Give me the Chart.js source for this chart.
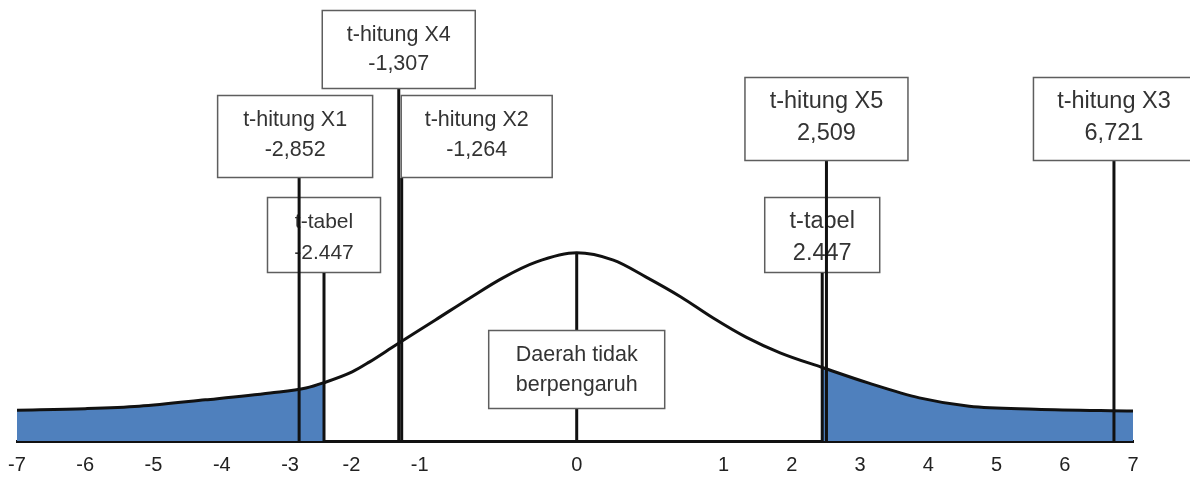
<!DOCTYPE html>
<html>
<head>
<meta charset="utf-8">
<script src="https://cdn.jsdelivr.net/npm/chart.js@4.4.1/dist/chart.umd.min.js"></script>
<style>
  html, body { margin: 0; padding: 0; background: #fff; }
  #wrap { width: 1190px; height: 477px; }
</style>
</head>
<body>
<div id="wrap"><canvas id="chart" width="1190" height="477"></canvas></div>
<script>
// axis range and tick steps
const xMin = -7;
const xMax = 7;
// the drawn axis is not even: the part between -1 and 1 is about twice as wide
const segmentWeights = [1, 1, 1, 1, 0.9, 1, 2.3, 2.15, 1, 1, 1, 1, 1, 1];

// bell curve
const curveX = [-7, -6, -5.21, -4.24, -3.29, -2.74, -2.447, -1.99, -1.74, -1.35, -0.9, -0.68, -0.47, -0.26, 0,
                0.25, 0.47, 0.71, 0.93, 1.33, 1.83, 2.447, 3.13, 3.87, 4.6, 5.57, 7];
const curveY = [0.063, 0.066, 0.071, 0.084, 0.098, 0.108, 0.119, 0.141, 0.161, 0.196, 0.247, 0.292, 0.333, 0.365, 0.384,
                0.369, 0.335, 0.294, 0.251, 0.212, 0.180, 0.150, 0.118, 0.088, 0.071, 0.065, 0.061];

// critical value
const tTabel = 2.447;

// t-hitung / t-tabel markers
const markerNames = ['t-tabel', 't-tabel', 't-hitung X4', 't-hitung X1', 't-hitung X2', 't-hitung X5', 't-hitung X3'];
const markerValues = [-2.447, 2.447, -1.307, -2.852, -1.264, 2.509, 6.721];
const markerSep = ['.', '.', ',', ',', ',', ',', ','];

const centerText = ['Daerah tidak', 'berpengaruh'];

// box layout (pixels), one per marker
const markerLayout = [
    { top: 197, w: 114, h: 76, font: 21, gap: 31, layer: 0 },
    { top: 197, w: 116, h: 76, font: 23.5, gap: 32, layer: 0 },
    { top: 10, w: 154, h: 79, font: 21.5, gap: 29, layer: 1 },
    { top: 95, w: 156, h: 83, font: 21.5, gap: 30, layer: 1, dx: -4 },
    { top: 95, w: 152, h: 83, font: 21.5, gap: 30, layer: 1, align: 'left' },
    { top: 77, w: 164, h: 84, font: 23.5, gap: 32, layer: 1 },
    { top: 77, w: 162, h: 84, font: 23.5, gap: 32, layer: 1 },
];
const centerLayout = { top: 330, w: 177, h: 79, font: 21.5, gap: 30 };

const FONT = '"Liberation Sans", Arial, sans-serif';
const BLUE = '#4f80bd';

function fmt(v, sep) {
    return v.toFixed(3).replace('.', sep);
}

const LinearScale = Chart.LinearScale || Chart.registry.getScale('linear');

class SegmentScale extends LinearScale {
    _toDecimal(v) {
        const total = segmentWeights.reduce((a, b) => a + b, 0);
        let i = Math.floor(v - xMin);
        i = Math.max(0, Math.min(segmentWeights.length - 1, i));
        let acc = 0;
        for (let k = 0; k < i; k++) acc += segmentWeights[k];
        acc += (v - (xMin + i)) * segmentWeights[i];
        return acc / total;
    }
    getPixelForValue(value) {
        if (value === null || isNaN(value)) return NaN;
        return this.getPixelForDecimal(this._toDecimal(value));
    }
    getValueForPixel(pixel) {
        const total = segmentWeights.reduce((a, b) => a + b, 0);
        let d = this.getDecimalForPixel(pixel) * total;
        for (let k = 0; k < segmentWeights.length; k++) {
            if (d <= segmentWeights[k] || k === segmentWeights.length - 1) {
                return xMin + k + d / segmentWeights[k];
            }
            d -= segmentWeights[k];
        }
        return xMax;
    }
}
SegmentScale.id = 'segment';
SegmentScale.defaults = LinearScale.defaults;
Chart.register(SegmentScale);

const curve = curveX.map((x, i) => ({ x: x, y: curveY[i] }));
const leftTail = curve.filter(p => p.x <= -tTabel);
const rightTail = curve.filter(p => p.x >= tTabel);

function drawBox(ctx, left, top, w, h, lines, font, gap) {
    ctx.fillStyle = '#fff';
    ctx.fillRect(left, top, w, h);
    ctx.strokeStyle = '#5e5e5e';
    ctx.lineWidth = 1.5;
    ctx.strokeRect(left + 0.5, top + 0.5, w - 1, h - 1);
    ctx.fillStyle = '#333';
    ctx.font = font + 'px ' + FONT;
    ctx.textAlign = 'center';
    ctx.textBaseline = 'middle';
    const cx = left + w / 2;
    ctx.fillText(lines[0], cx, top + 25);
    ctx.fillText(lines[1], cx, top + 25 + gap);
}

const markerPlugin = {
    id: 'markers',
    afterDatasetsDraw(chart) {
        const { ctx, scales: { x, y } } = chart;
        const base = y.getPixelForValue(0);
        const boxes = markerValues.map((v, i) => {
            const L = markerLayout[i];
            const px = x.getPixelForValue(v);
            const left = L.align === 'left' ? px - 1 : px - L.w / 2 + (L.dx || 0);
            return { px, left, L, lines: [markerNames[i], fmt(v, markerSep[i])] };
        });
        ctx.save();
        boxes.filter(b => b.L.layer === 0).forEach(b =>
            drawBox(ctx, b.left, b.L.top, b.L.w, b.L.h, b.lines, b.L.font, b.L.gap));

        // vertical lines
        ctx.strokeStyle = '#111';
        ctx.lineWidth = 3;
        boxes.forEach(b => {
            ctx.beginPath();
            ctx.moveTo(b.px, b.L.top + b.L.h);
            ctx.lineTo(b.px, base);
            ctx.stroke();
        });
        const peak = curveY[curveX.indexOf(0)];
        const zx = x.getPixelForValue(0);
        ctx.beginPath();
        ctx.moveTo(zx, y.getPixelForValue(peak));
        ctx.lineTo(zx, base);
        ctx.stroke();

        boxes.filter(b => b.L.layer === 1).forEach(b =>
            drawBox(ctx, b.left, b.L.top, b.L.w, b.L.h, b.lines, b.L.font, b.L.gap));
        const C = centerLayout;
        drawBox(ctx, zx - C.w / 2, C.top, C.w, C.h, centerText, C.font, C.gap);
        ctx.restore();
    }
};

new Chart(document.getElementById('chart'), {
    type: 'line',
    data: {
        datasets: [
            {
                data: curve,
                borderColor: '#111',
                borderWidth: 3,
                pointRadius: 0,
                fill: false,
                cubicInterpolationMode: 'monotone',
            },
            {
                data: leftTail,
                borderWidth: 0,
                borderColor: 'rgba(0,0,0,0)',
                backgroundColor: BLUE,
                pointRadius: 0,
                fill: 'origin',
                cubicInterpolationMode: 'monotone',
            },
            {
                data: rightTail,
                borderWidth: 0,
                borderColor: 'rgba(0,0,0,0)',
                backgroundColor: BLUE,
                pointRadius: 0,
                fill: 'origin',
                cubicInterpolationMode: 'monotone',
            },
        ]
    },
    options: {
        responsive: false,
        animation: false,
        layout: { padding: { left: 17, right: 57, top: 0, bottom: 0 } },
        plugins: {
            legend: { display: false },
            tooltip: { enabled: false },
        },
        scales: {
            x: {
                type: 'segment',
                min: xMin,
                max: xMax,
                border: { display: true, color: '#111', width: 3 },
                grid: { display: true, drawOnChartArea: false, drawTicks: false },
                ticks: {
                    stepSize: 1,
                    padding: 12,
                    color: '#222',
                    font: { family: FONT, size: 20 },
                },
                afterFit(scale) {
                    scale.height = 36;
                    scale.paddingLeft = 0;
                    scale.paddingRight = 0;
                },
            },
            y: {
                display: false,
                min: 0,
                max: 0.9,
            }
        }
    },
    plugins: [markerPlugin]
});
</script>
</body>
</html>
